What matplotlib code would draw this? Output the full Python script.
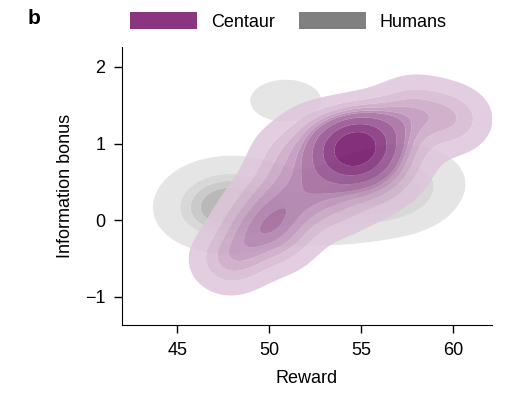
import matplotlib
matplotlib.use("Agg")
from matplotlib import pyplot as plt
from matplotlib.patches import Patch
import numpy as np

# Panel b: reward vs information bonus, Centaur vs humans (KDE)

centaur_reward = [54.6, 54.2, 55.0, 54.8, 55.3, 54.0, 55.6, 54.4, 55.1, 53.8, 55.8, 54.7, 53.6, 56.2, 54.9,
                  54.5, 55.2, 54.1,
                  57.0, 58.0, 60.0, 57.5, 56.8, 59.3, 57.6, 60.6,
                  52.5, 52.0, 53.0, 51.5, 53.2, 51.2, 52.2, 50.6, 50.2, 55.6, 53.8,
                  49.6, 50.4, 48.9, 50.8, 48.4, 49.6, 47.9, 47.2, 51.2, 48.6]
centaur_bonus = [0.95, 0.90, 1.00, 0.85, 1.05, 0.80, 1.10, 1.05, 0.80, 0.95, 0.95, 1.15, 0.70, 1.20, 0.65,
                 0.90, 0.95, 1.00,
                 1.25, 1.35, 1.20, 0.80, 0.55, 1.45, 1.55, 1.35,
                 0.60, 0.30, 1.00, 0.20, 0.35, 0.75, 1.20, 0.90, 0.45, 0.35, 0.10,
                 -0.20, 0.00, -0.25, -0.35, -0.50, 0.25, -0.60, -0.50, -0.10, 0.00]

human_reward = [46.9, 47.2, 47.7, 48.2, 47.4, 47.1, 48.6, 47.9, 47.3, 48.3, 47.6, 49.2,
                50.2, 51.2, 52.2,
                53.6, 54.4, 55.2, 56.0, 56.6, 57.0, 57.6, 56.4, 57.8, 55.6, 54.2, 57.2,
                50.9]
human_bonus = [0.10, 0.05, 0.15, 0.10, 0.30, 0.25, 0.20, 0.00, 0.40, 0.45, 0.05, 0.30,
               0.20, 0.10, 0.10,
               0.10, 0.15, 0.20, 0.30, 0.30, 0.20, 0.40, 0.50, 0.55, 0.40, 0.35, 0.60,
               1.56]

groups = ["Centaur", "Humans"]
colors = {"Centaur": "#893580", "Humans": "#808080"}

# kernel widths (reward, bonus) and number of contour levels per group
bandwidth = {"Centaur": (1.25, 0.27), "Humans": (1.55, 0.22)}
n_levels = {"Centaur": 10, "Humans": 5}
fill_colors = {
    "Centaur": ["#dfc6dc", "#d5b6d0", "#caa4c5", "#be92ba", "#b17ead",
                "#a2669d", "#904a8c", "#7f2977", "#700c64"],
    "Humans": ["#e5e5e5", "#d8d8d8", "#cacaca", "#b9b9b9"],
}
alphas = {"Centaur": 0.85, "Humans": 1.0}

xs = np.linspace(40, 64, 240)
ys = np.linspace(-1.8, 2.6, 220)
X, Y = np.meshgrid(xs, ys)


def kde(rx, ry, bw):
    z = np.zeros_like(X)
    for a, b in zip(rx, ry):
        z += np.exp(-0.5 * (((X - a) / bw[0]) ** 2 + ((Y - b) / bw[1]) ** 2))
    return z / z.sum()


def iso_levels(z, n, thresh=0.05):
    srt = np.sort(z.ravel())[::-1]
    cum = np.cumsum(srt) / srt.sum()
    props = np.linspace(thresh, 1, n)
    lv = np.take(srt, np.searchsorted(cum, 1 - props), mode="clip")
    lv = np.sort(lv)
    lv[-1] = z.max() * 1.01
    return lv


data = {
    "Centaur": (centaur_reward, centaur_bonus),
    "Humans": (human_reward, human_bonus),
}

plt.rcParams["font.family"] = ["Liberation Sans", "DejaVu Sans"]
plt.rcParams["font.size"] = 13

fig = plt.figure(figsize=(5.06, 4.09), dpi=100)
ax = fig.add_axes([0.241, 0.205, 0.731, 0.68])
for g in ["Humans", "Centaur"]:
    z = kde(data[g][0], data[g][1], bandwidth[g])
    ax.contourf(X, Y, z, levels=iso_levels(z, n_levels[g]),
                colors=fill_colors[g], alpha=alphas[g], antialiased=True)

ax.set_xlim(42.0, 62.1)
ax.set_ylim(-1.37, 2.26)
ax.set_xticks([45, 50, 55, 60])
ax.set_yticks([-1, 0, 1, 2])
ax.set_yticklabels(["\u22121", "0", "1", "2"])
ax.spines["top"].set_visible(False)
ax.spines["right"].set_visible(False)
ax.tick_params(length=6, width=1, pad=6)
ax.set_xlabel("Reward", labelpad=8)
ax.set_ylabel("Information bonus", labelpad=8)

handles = [Patch(facecolor=colors[g], edgecolor="none") for g in groups]
fig.legend(handles, groups, loc="upper left", bbox_to_anchor=(0.225, 1.01),
           ncol=2, frameon=False, handlelength=3.7, handleheight=1.1,
           columnspacing=1.3, handletextpad=0.8)
fig.text(0.055, 0.955, "b", fontsize=15, fontweight="bold", va="center")

fig.savefig("out.png", dpi=100)
